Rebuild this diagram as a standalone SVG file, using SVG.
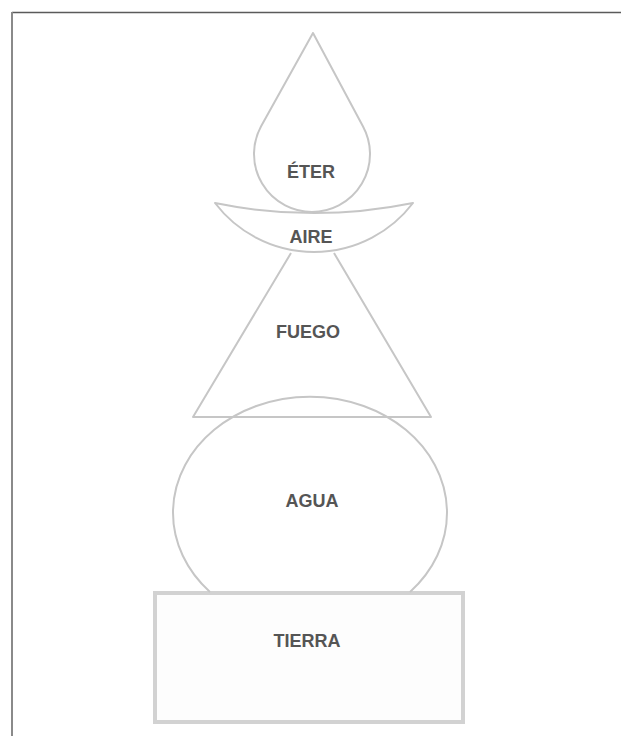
<svg xmlns="http://www.w3.org/2000/svg" width="621" height="736" viewBox="0 0 621 736">
<style>
.s{fill:none;stroke:#c6c6c6;stroke-width:2;stroke-linejoin:round}
.t{font-family:"Liberation Sans",Arial,sans-serif;font-weight:bold;font-size:18px;fill:#555;text-anchor:middle}
</style>
<rect width="621" height="736" fill="#fff"/>
<g id="frame">
<line x1="12" y1="12.5" x2="621" y2="12.5" stroke="#5a5a5a" stroke-width="1.5"/>
<line x1="12" y1="12" x2="12" y2="736" stroke="#8a8a8a" stroke-width="2"/>
</g>
<g id="connectors"></g>
<g id="tierra">
<rect x="155" y="593" width="308" height="129" fill="#fdfdfd" stroke="#d2d2d2" stroke-width="4"/>
<text class="t" x="307" y="647">TIERRA</text>
</g>
<g id="agua">
<path class="s" d="M210 592 A137 116 0 1 1 410 592"/>
<text class="t" x="312" y="507">AGUA</text>
</g>
<g id="fuego">
<path class="s" d="M291 253 L193 417 L431 417 L334 253"/>
<text class="t" x="308" y="338">FUEGO</text>
</g>
<g id="aire">
<path class="s" d="M215 203 A124.5 124.5 0 0 0 413 203 A495 495 0 0 1 215 203 Z"/>
<text class="t" x="311" y="243">AIRE</text>
</g>
<g id="eter">
<path class="s" d="M313 33 L261.1 126.2 A58 58 0 1 0 362.9 126.2 Z"/>
<text class="t" x="311" y="178">ÉTER</text>
</g>
</svg>
